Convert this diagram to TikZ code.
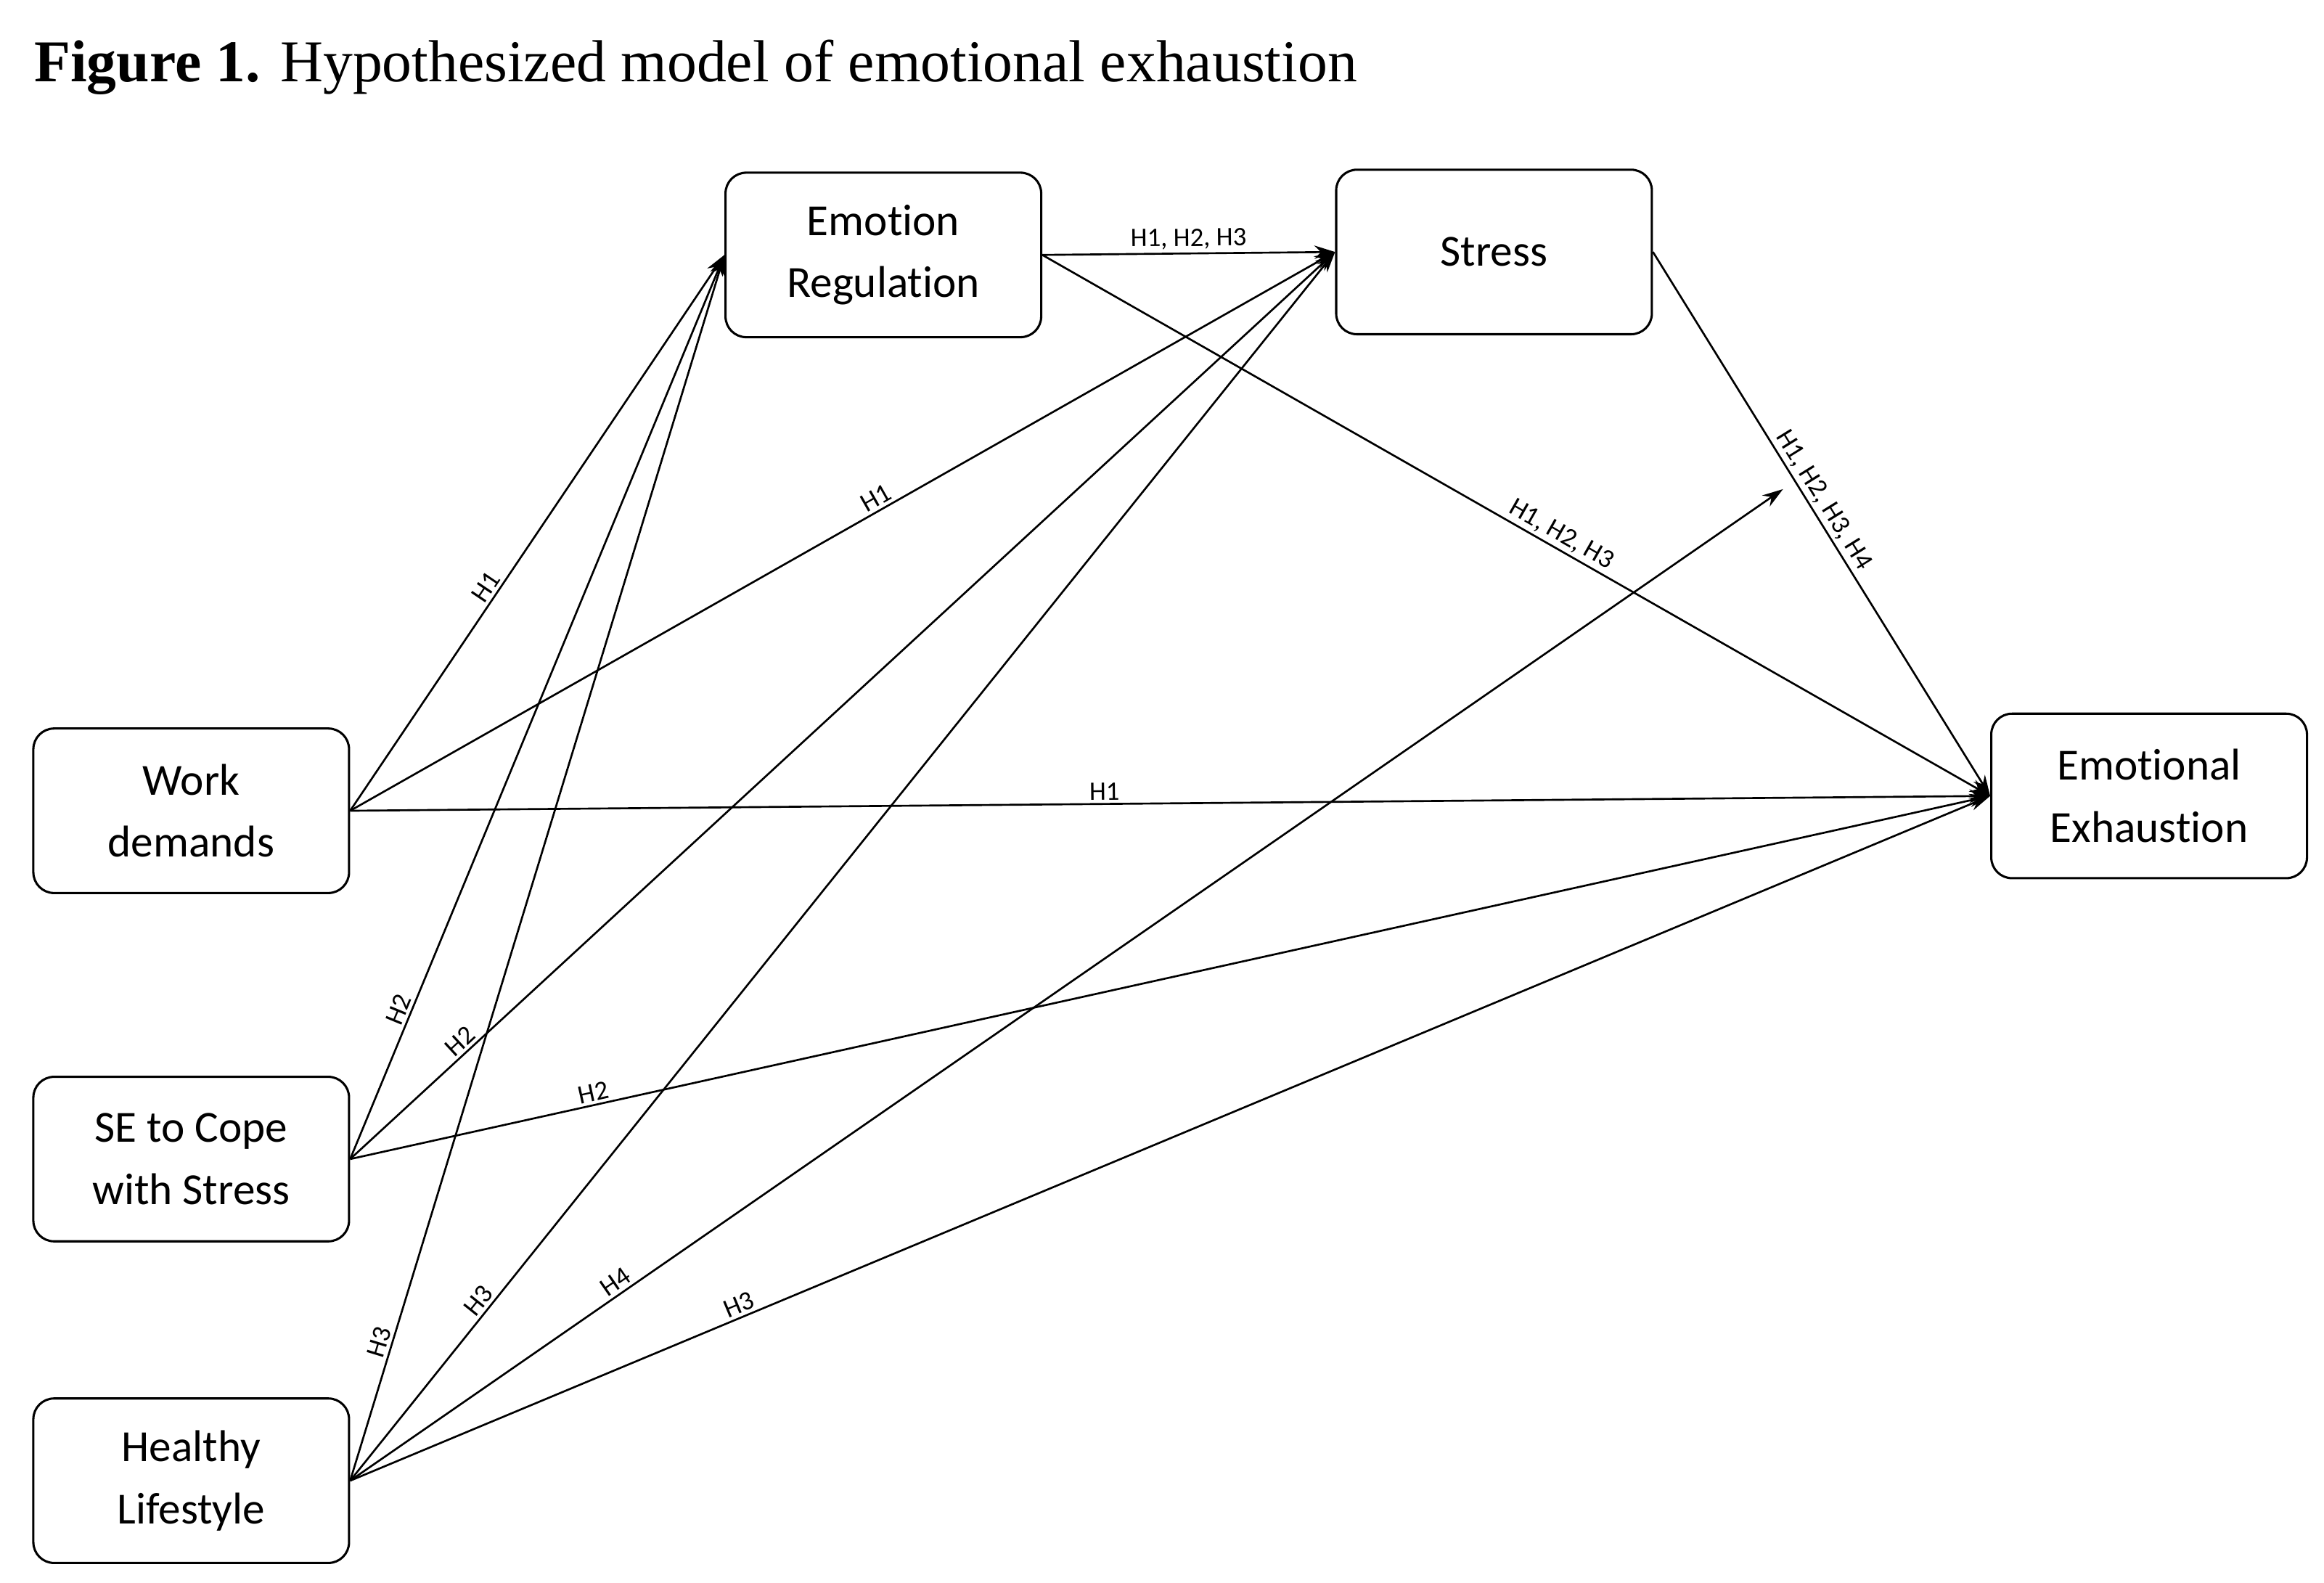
\documentclass[tikz,border=0pt]{standalone}
\usepackage{fontspec}
\setmainfont[Ligatures={NoCommon}]{Carlito}
\newfontfamily\titlefont{Liberation Serif}
\usetikzlibrary{arrows.meta}
\begin{document}
\begin{tikzpicture}[x=1pt,y=-1pt,
  box/.style={draw,line width=1.5pt,rounded corners=14pt,minimum width=213pt,minimum height=111pt,align=center,font=\fontsize{30}{42}\selectfont},
  arr/.style={line width=1.3pt,-{Stealth[length=14pt,width=9pt]}},
  lab/.style={font=\fontsize{18}{20}\selectfont,sloped,above,inner sep=2pt}]
\useasboundingbox (0,0) rectangle (1568,1068);
\node[anchor=base west,inner sep=0] (title) at (23,55) {\titlefont\fontsize{40}{44}\selectfont\textbf{Figure 1.} Hypothesized model of emotional exhaustion};
\node[box] (er) at (596,172) {Emotion\\Regulation};
\node[box] (st) at (1008,170) {Stress};
\node[box] (wd) at (129,547) {Work\\demands};
\node[box] (se) at (129,782) {SE to Cope\\with Stress};
\node[box] (hl) at (129,999) {Healthy\\Lifestyle};
\node[box] (ee) at (1450,537) {Emotional\\Exhaustion};
\coordinate (h4) at (1203,330);
\draw[arr] (wd.east) -- node[lab,pos=0.39]{H1} (er.west);
\draw[arr] (wd.east) -- node[lab,pos=0.54]{H1} (st.west);
\draw[arr] (wd.east) -- node[lab,pos=0.46]{H1} (ee.west);
\draw[arr] (se.east) -- node[lab,pos=0.16]{H2} (er.west);
\draw[arr] (se.east) -- node[lab,pos=0.12]{H2} (st.west);
\draw[arr] (se.east) -- node[lab,pos=0.15]{H2} (ee.west);
\draw[arr] (hl.east) -- node[lab,pos=0.11]{H3} (er.west);
\draw[arr] (hl.east) -- node[lab,pos=0.14]{H3} (st.west);
\draw[arr] (hl.east) -- node[lab,pos=0.19]{H4} (h4);
\draw[arr] (hl.east) -- node[lab,pos=0.24]{H3} (ee.west);
\draw[arr] (er.east) -- node[lab,pos=0.5]{H1, H2, H3} (st.west);
\draw[arr] (er.east) -- node[lab,pos=0.54]{H1, H2, H3} (ee.west);
\draw[arr] (st.east) -- node[lab,pos=0.47]{H1, H2, H3, H4} (ee.west);
\end{tikzpicture}
\end{document}
